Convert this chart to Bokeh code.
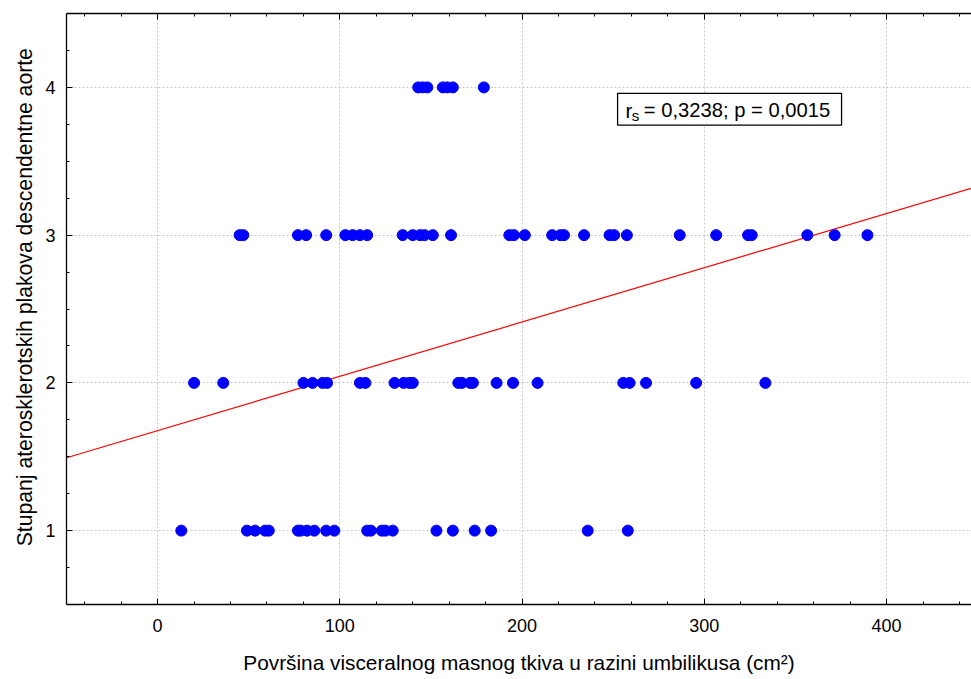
from bokeh.plotting import figure
from bokeh.models import Range1d, LinearAxis, FixedTicker, BoxAnnotation, Label, CustomJSTickFormatter
from bokeh.embed import file_html
from bokeh.resources import INLINE
import numpy as np

# ---- data ----
x_grade4 = [143, 145.5, 148, 156.5, 159, 162, 179]
x_grade3 = [45, 47, 77, 81.5, 92.5, 103, 107, 111, 115, 134.5, 140, 144, 146.5, 151,
            161, 193, 195.5, 201.5, 216.5, 221, 223, 234, 248, 250.5, 257.5, 286.5,
            306.5, 324, 326, 356.5, 371.5, 389.5]
x_grade2 = [20, 36, 80, 85, 90.5, 93, 111, 114, 130, 135, 138, 140, 165, 167, 171.5,
            173, 186, 195, 208.5, 255.5, 259, 268, 295.5, 333.5]
x_grade1 = [13, 49, 53.5, 59, 61, 77, 78.5, 82, 86, 92.5, 97, 115, 117, 123, 125, 129,
            153, 162, 174, 183, 236, 258]
grades = [4, 3, 2, 1]
fit_intercept = 1.677
fit_slope = 0.003675
x_ticks = [0, 100, 200, 300, 400]
y_ticks = [1, 2, 3, 4]
stat_text = "= 0,3238; p = 0,0015"

xs = x_grade4 + x_grade3 + x_grade2 + x_grade1
ys = ([4] * len(x_grade4) + [3] * len(x_grade3) + [2] * len(x_grade2) + [1] * len(x_grade1))

FONT = "Liberation Sans"
X_END = 446.6

p = figure(width=971, height=676, output_backend="svg", toolbar_location=None,
           x_range=Range1d(-50, X_END), y_range=Range1d(0.5, 4.5),
           min_border_left=66, min_border_right=0, min_border_top=13, min_border_bottom=10)
p.outline_line_color = None
p.background_fill_color = "white"
p.border_fill_color = "white"

# regression line
lx = np.array([-50, X_END])
p.line(lx, fit_intercept + fit_slope * lx, line_color="#ff0000", line_width=1.2)

p.scatter(xs, ys, size=11, fill_color="#0000ff", line_color="#0000ff")

for ax in (p.xaxis[0], p.yaxis[0]):
    ax.axis_line_color = "black"
    ax.axis_line_width = 1.3
    ax.major_tick_in = 6
    ax.major_tick_out = 0
    ax.minor_tick_in = 3
    ax.minor_tick_out = 0
    ax.major_tick_line_color = "black"
    ax.minor_tick_line_color = "black"
    ax.major_label_text_font = FONT
    ax.major_label_text_font_size = "18px"
    ax.major_label_text_color = "black"
    ax.axis_label_text_font = FONT
    ax.axis_label_text_font_style = "normal"
    ax.axis_label_text_color = "black"

p.xaxis.axis_label_text_font_size = "20.8px"
p.yaxis.axis_label_text_font_size = "21.2px"
p.xaxis.ticker = FixedTicker(ticks=x_ticks, minor_ticks=list(range(-40, 441, 20)))
p.yaxis.ticker = FixedTicker(ticks=y_ticks, minor_ticks=[0.75, 1.25, 1.5, 1.75, 2.25, 2.5, 2.75,
                                                          3.25, 3.5, 3.75, 4.25])
p.xaxis.major_label_standoff = 14
p.yaxis.major_label_standoff = 11
p.xaxis.axis_label = "Površina visceralnog masnog tkiva u razini umbilikusa (cm²)"
p.yaxis.axis_label = "\u00a0\u00a0\u00a0\u00a0Stupanj aterosklerotskih plakova descendentne aorte"
p.xaxis.axis_label_standoff = 16
p.yaxis.axis_label_standoff = 6

# top axis: ticks only (no labels)
top = LinearAxis(ticker=FixedTicker(ticks=x_ticks, minor_ticks=list(range(-40, 441, 20))),
                 formatter=CustomJSTickFormatter(code="return '';"))
top.axis_line_color = "black"
top.axis_line_width = 1.3
top.major_tick_in = 6
top.major_tick_out = 0
top.minor_tick_in = 3
top.minor_tick_out = 0
top.major_label_text_font_size = "10px"
top.major_label_standoff = 0
p.add_layout(top, "above")

p.xgrid.ticker = FixedTicker(ticks=x_ticks)
p.ygrid.ticker = FixedTicker(ticks=y_ticks)
p.grid.grid_line_color = "#c8c8c8"
p.grid.grid_line_dash = "2 2"
p.grid.grid_line_width = 1

# statistics box
p.add_layout(BoxAnnotation(left=252.4, right=375.3, top=3.9595, bottom=3.745,
                           fill_color="white", fill_alpha=1,
                           line_color="black", line_alpha=1, line_width=1.3))
p.add_layout(Label(x=256.8, y=3.844, text="r", text_font=FONT, text_font_size="20.5px",
                   text_color="black", text_baseline="alphabetic"))
p.add_layout(Label(x=260.2, y=3.808, text="s", text_font=FONT, text_font_size="15px",
                   text_color="black", text_baseline="alphabetic"))
p.add_layout(Label(x=266.8, y=3.844, text=stat_text, text_font=FONT, text_font_size="20.2px",
                   text_color="black", text_baseline="alphabetic"))

open("out.html", "w").write(file_html(p, INLINE))
